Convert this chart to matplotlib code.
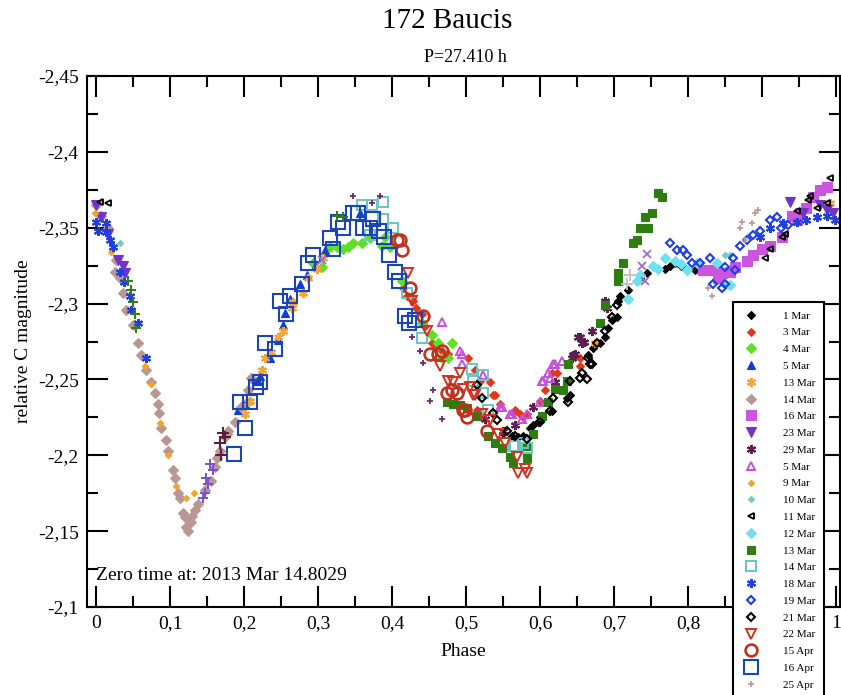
import matplotlib
matplotlib.use("Agg")
import matplotlib.pyplot as plt
from matplotlib.ticker import MultipleLocator, FuncFormatter

# (phase, relative C magnitude), one list per night
mar01 = [(0.550, -2.215), (0.562, -2.213), (0.570, -2.212), (0.577, -2.213), (0.586, -2.218),
         (0.590, -2.220), (0.597, -2.222), (0.600, -2.225), (0.616, -2.229), (0.636, -2.238),
         (0.641, -2.240), (0.665, -2.266), (0.672, -2.271), (0.681, -2.274), (0.688, -2.278),
         (0.692, -2.284), (0.697, -2.289), (0.704, -2.291), (0.705, -2.302), (0.708, -2.305),
         (0.719, -2.309), (0.735, -2.317), (0.745, -2.320), (0.769, -2.323), (0.775, -2.325),
         (0.782, -2.327), (0.790, -2.325), (0.809, -2.322), (0.815, -2.322), (0.830, -2.322),
         (0.843, -2.322)]
mar03 = [(0.415, -2.310), (0.420, -2.305), (0.429, -2.302), (0.433, -2.297), (0.441, -2.293),
         (0.445, -2.285), (0.454, -2.274), (0.460, -2.272), (0.468, -2.269), (0.476, -2.267),
         (0.503, -2.264), (0.512, -2.256), (0.519, -2.249), (0.532, -2.248), (0.536, -2.240),
         (0.539, -2.240), (0.546, -2.234), (0.515, -2.230), (0.564, -2.228), (0.566, -2.230),
         (0.573, -2.227), (0.577, -2.225), (0.582, -2.227), (0.600, -2.236), (0.607, -2.243),
         (0.616, -2.254), (0.623, -2.254), (0.654, -2.264), (0.645, -2.266), (0.654, -2.259)]
mar04 = [(0.293, -2.327), (0.305, -2.324), (0.316, -2.337), (0.325, -2.337), (0.334, -2.336),
         (0.341, -2.337), (0.347, -2.340), (0.359, -2.340), (0.370, -2.343), (0.386, -2.338),
         (0.390, -2.344), (0.397, -2.337), (0.413, -2.315), (0.440, -2.287), (0.454, -2.279),
         (0.462, -2.274), (0.468, -2.264), (0.481, -2.274), (0.475, -2.264)]
mar05 = [(0.192, -2.230), (0.201, -2.234), (0.216, -2.249), (0.219, -2.249), (0.222, -2.252),
         (0.235, -2.264), (0.246, -2.276), (0.253, -2.286), (0.255, -2.294), (0.262, -2.303),
         (0.276, -2.313), (0.285, -2.319), (0.296, -2.325), (0.310, -2.335), (0.357, -2.360)]
mar13 = [(0.201, -2.227), (0.205, -2.235), (0.208, -2.236), (0.224, -2.256), (0.228, -2.264),
         (0.236, -2.268), (0.246, -2.278), (0.253, -2.282), (0.265, -2.297), (0.266, -2.301),
         (0.280, -2.307), (0.287, -2.317), (0.298, -2.323), (0.307, -2.330), (0.674, -2.274),
         (0.992, -2.366)]
mar14 = [(0.000, -2.365), (0.007, -2.358), (0.016, -2.350), (0.027, -2.329), (0.026, -2.321),
         (0.032, -2.317), (0.036, -2.307), (0.041, -2.296), (0.050, -2.286), (0.057, -2.274),
         (0.061, -2.266), (0.068, -2.256), (0.074, -2.248), (0.080, -2.241), (0.084, -2.234),
         (0.085, -2.228), (0.088, -2.218), (0.095, -2.210), (0.097, -2.203), (0.104, -2.190),
         (0.107, -2.185), (0.111, -2.175), (0.113, -2.172), (0.118, -2.162), (0.120, -2.159),
         (0.122, -2.153), (0.124, -2.150), (0.128, -2.156), (0.130, -2.160), (0.134, -2.164),
         (0.138, -2.168), (0.147, -2.177), (0.155, -2.183), (0.161, -2.192), (0.163, -2.198),
         (0.168, -2.203), (0.174, -2.212), (0.177, -2.214), (0.178, -2.216), (0.188, -2.222),
         (0.196, -2.232), (0.205, -2.243), (0.209, -2.251)]
mar16 = [(0.820, -2.322), (0.834, -2.322), (0.840, -2.317), (0.846, -2.320), (0.857, -2.321),
         (0.864, -2.324), (0.880, -2.328), (0.888, -2.332), (0.900, -2.336), (0.911, -2.338),
         (0.927, -2.344), (0.940, -2.358), (0.947, -2.355), (0.951, -2.360), (0.960, -2.363),
         (0.969, -2.370), (0.978, -2.375), (0.988, -2.377)]
mar23 = [(0.000, -2.365), (0.007, -2.357), (0.016, -2.346), (0.030, -2.329), (0.036, -2.325),
         (0.039, -2.320), (0.938, -2.367), (0.955, -2.360), (0.978, -2.365), (0.988, -2.362),
         (0.996, -2.360)]
mar29 = [(0.526, -2.224), (0.550, -2.216), (0.566, -2.220), (0.591, -2.232), (0.620, -2.248),
         (0.643, -2.264), (0.645, -2.266), (0.647, -2.267), (0.652, -2.278), (0.654, -2.278),
         (0.657, -2.274), (0.660, -2.275), (0.670, -2.282), (0.688, -2.302), (0.690, -2.297)]
mar05b = [(0.468, -2.288), (0.492, -2.269), (0.495, -2.260), (0.495, -2.267), (0.523, -2.253),
          (0.546, -2.232), (0.549, -2.232), (0.559, -2.227), (0.562, -2.227), (0.575, -2.224),
          (0.582, -2.227), (0.600, -2.235), (0.603, -2.249), (0.604, -2.249), (0.611, -2.254),
          (0.614, -2.251), (0.618, -2.260), (0.620, -2.260), (0.630, -2.262)]
mar09 = [(-0.001, -2.360), (0.020, -2.334), (0.066, -2.259), (0.074, -2.247), (0.086, -2.221),
         (0.097, -2.200), (0.108, -2.180), (0.122, -2.172), (0.132, -2.175)]
mar10 = [(0.032, -2.340), (0.850, -2.332), (0.857, -2.332)]
mar11 = [(0.005, -2.367), (0.016, -2.366), (0.904, -2.330), (0.911, -2.336), (0.927, -2.344),
         (0.931, -2.346), (0.947, -2.361), (0.962, -2.368), (0.965, -2.371), (0.974, -2.363),
         (0.988, -2.366), (0.992, -2.383)]
mar12 = [(0.719, -2.303), (0.731, -2.315), (0.735, -2.319), (0.753, -2.325), (0.760, -2.323),
         (0.769, -2.330), (0.782, -2.328), (0.790, -2.326), (0.798, -2.322), (0.812, -2.327),
         (0.839, -2.327), (0.850, -2.313), (0.857, -2.312)]
mar13b = [(0.474, -2.235), (0.482, -2.234), (0.492, -2.233), (0.501, -2.231), (0.515, -2.226),
          (0.530, -2.213), (0.539, -2.208), (0.549, -2.205), (0.559, -2.199), (0.564, -2.195),
          (0.582, -2.206), (0.582, -2.198), (0.591, -2.214), (0.603, -2.226), (0.611, -2.235),
          (0.620, -2.244), (0.631, -2.243), (0.636, -2.249), (0.638, -2.260), (0.681, -2.287),
          (0.688, -2.299), (0.705, -2.315), (0.705, -2.320), (0.712, -2.327), (0.726, -2.340),
          (0.731, -2.342), (0.735, -2.350), (0.742, -2.357), (0.746, -2.350), (0.751, -2.360),
          (0.759, -2.373), (0.765, -2.370)]
mar14b = [(0.359, -2.365), (0.373, -2.365), (0.370, -2.345), (0.388, -2.356), (0.388, -2.367),
          (0.401, -2.350), (0.420, -2.307), (0.440, -2.277), (0.508, -2.257), (0.510, -2.249),
          (0.523, -2.253), (0.523, -2.241), (0.530, -2.230), (0.564, -2.206), (0.566, -2.206),
          (0.577, -2.208), (0.582, -2.205)]
mar18 = [(0.000, -2.354), (0.003, -2.348), (0.014, -2.353), (0.014, -2.347), (0.019, -2.342),
         (0.023, -2.337), (0.032, -2.321), (0.038, -2.314), (0.046, -2.305), (0.047, -2.296),
         (0.057, -2.287), (0.068, -2.264), (0.897, -2.344), (0.911, -2.350), (0.928, -2.353),
         (0.947, -2.354), (0.960, -2.355), (0.974, -2.357), (0.988, -2.358), (0.999, -2.355)]
mar19 = [(0.776, -2.340), (0.785, -2.335), (0.793, -2.335), (0.798, -2.332), (0.805, -2.327),
         (0.816, -2.327), (0.830, -2.330), (0.834, -2.313), (0.846, -2.310), (0.850, -2.313),
         (0.850, -2.324), (0.861, -2.330), (0.864, -2.322), (0.870, -2.338), (0.880, -2.342),
         (0.888, -2.345), (0.897, -2.348), (0.911, -2.355), (0.920, -2.357), (0.925, -2.350),
         (0.935, -2.352)]
mar21 = [(0.515, -2.246), (0.522, -2.238), (0.536, -2.228), (0.542, -2.223), (0.556, -2.216),
         (0.566, -2.213), (0.582, -2.211), (0.600, -2.222), (0.614, -2.229), (0.618, -2.238),
         (0.638, -2.235), (0.641, -2.249), (0.654, -2.251), (0.657, -2.254), (0.663, -2.250),
         (0.665, -2.264), (0.668, -2.260), (0.670, -2.260), (0.677, -2.274), (0.688, -2.282),
         (0.697, -2.291), (0.704, -2.299)]
mar22 = [(0.422, -2.320), (0.427, -2.302), (0.447, -2.282), (0.465, -2.259), (0.476, -2.249),
         (0.482, -2.248), (0.492, -2.254), (0.496, -2.244), (0.505, -2.245), (0.510, -2.240),
         (0.512, -2.240), (0.522, -2.227), (0.532, -2.223), (0.543, -2.214), (0.553, -2.208),
         (0.569, -2.199), (0.570, -2.188), (0.580, -2.191), (0.582, -2.188)]
apr15 = [(0.407, -2.342), (0.413, -2.335), (0.411, -2.342), (0.424, -2.310), (0.442, -2.292),
         (0.451, -2.267), (0.462, -2.267), (0.468, -2.269), (0.474, -2.241), (0.481, -2.243),
         (0.488, -2.241), (0.496, -2.230), (0.499, -2.230), (0.501, -2.225), (0.528, -2.216)]
apr16 = [(0.187, -2.201), (0.195, -2.235), (0.201, -2.218), (0.208, -2.235), (0.216, -2.245),
         (0.222, -2.248), (0.228, -2.274), (0.242, -2.270), (0.249, -2.302), (0.257, -2.293),
         (0.262, -2.305), (0.278, -2.313), (0.286, -2.327), (0.293, -2.332), (0.316, -2.343),
         (0.320, -2.336), (0.327, -2.354), (0.334, -2.350), (0.347, -2.360), (0.354, -2.360),
         (0.361, -2.350), (0.370, -2.350), (0.374, -2.356), (0.382, -2.348), (0.389, -2.344),
         (0.396, -2.332), (0.404, -2.321), (0.410, -2.315), (0.418, -2.292), (0.423, -2.287),
         (0.431, -2.289)]
apr25 = [(0.827, -2.310), (0.832, -2.305), (0.870, -2.350), (0.873, -2.354), (0.877, -2.342),
         (0.886, -2.353), (0.890, -2.360), (0.895, -2.362)]

# nights whose legend entries fall below the bottom of the picture
extra_green = [(0.043, -2.315), (0.047, -2.309), (0.050, -2.301), (0.053, -2.293), (0.054, -2.284),
               (0.325, -2.358), (0.334, -2.357)]
extra_purple = [(0.145, -2.172), (0.147, -2.175), (0.149, -2.185), (0.151, -2.181), (0.154, -2.194),
                (0.158, -2.190)]
extra_maroon = [(0.168, -2.208), (0.169, -2.200), (0.172, -2.215), (0.174, -2.212)]
extra_small = [(0.347, -2.371), (0.373, -2.366), (0.384, -2.371), (0.427, -2.278), (0.438, -2.269),
               (0.442, -2.261), (0.451, -2.236), (0.455, -2.243), (0.468, -2.224)]
extra_lavender = [(0.305, -2.329), (0.738, -2.325), (0.742, -2.315), (0.745, -2.333)]
extra_grey = [(0.717, -2.313), (0.722, -2.319)]

STAR = (6, 2, 0)

# label, data, marker, size, face, edge, edge width
series = [
    ("1 Mar", mar01, "D", 4, "black", "black", 0.8),
    ("3 Mar", mar03, "D", 4, "#e0381c", "#e0381c", 0.8),
    ("4 Mar", mar04, "D", 5.5, "#5ee02a", "#5ee02a", 0.8),
    ("5 Mar", mar05, "^", 5.5, "#0b3fd8", "#0b3fd8", 0.8),
    ("13 Mar", mar13, STAR, 6.5, "#f3a53a", "#f3a53a", 1.5),
    ("14 Mar", mar14, "D", 5, "#b99893", "#b99893", 0.8),
    ("16 Mar", mar16, "s", 6.5, "#cc55e0", "#cc55e0", 0.8),
    ("23 Mar", mar23, "v", 6.5, "#7433c8", "#7433c8", 0.8),
    ("29 Mar", mar29, STAR, 6.5, "#5a1f4e", "#5a1f4e", 1.5),
    ("5 Mar", mar05b, "^", 6, "none", "#c84ee0", 1.4),
    ("9 Mar", mar09, "D", 3.2, "#f3a426", "#f3a426", 0.8),
    ("10 Mar", mar10, "D", 3.2, "#6fcfc8", "#6fcfc8", 0.8),
    ("11 Mar", mar11, "<", 5, "none", "black", 1.3),
    ("12 Mar", mar12, "D", 5.5, "#6ee0ee", "#6ee0ee", 0.8),
    ("13 Mar", mar13b, "s", 5.5, "#2f7d12", "#2f7d12", 0.8),
    ("14 Mar", mar14b, "s", 6.5, "none", "#6ec3c3", 1.4),
    ("18 Mar", mar18, STAR, 6.5, "#1f3fe0", "#1f3fe0", 1.5),
    ("19 Mar", mar19, "D", 4, "none", "#1f3fe0", 1.5),
    ("21 Mar", mar21, "D", 4, "none", "black", 1.5),
    ("22 Mar", mar22, "v", 6.5, "none", "#d2321c", 1.4),
    ("15 Apr", apr15, "o", 8.5, "none", "#c0311e", 1.9),
    ("16 Apr", apr16, "s", 9.5, "none", "#1b45b5", 1.5),
    ("25 Apr", apr25, "+", 4.5, "#b99893", "#b99893", 1.2),
    ("_26", extra_green, "+", 7.5, "#2f7d12", "#2f7d12", 1.4),
    ("_27", extra_purple, "+", 7.5, "#7a52c8", "#7a52c8", 1.4),
    ("_28", extra_maroon, "+", 8.5, "#5a1f3a", "#5a1f3a", 1.5),
    ("_29", extra_small, "+", 4, "#6a2a6a", "#6a2a6a", 1.3),
    ("_30", extra_lavender, "x", 6, "#9a70d0", "#9a70d0", 1.3),
    ("_31", extra_grey, "+", 8, "#c0c0c0", "#c0c0c0", 1.3),
]


def comma(v, pos):
    return f"{v:g}".replace(".", ",")


def main():
    plt.rcParams["font.family"] = ["Liberation Serif", "DejaVu Serif"]
    fig = plt.figure(figsize=(8.41, 6.95), dpi=100)
    ax = fig.add_axes([87 / 841, 1 - 607 / 695, (840 - 87) / 841, (607 - 76) / 695])

    for label, pts, marker, size, face, edge, mew in series:
        xs = [p[0] for p in pts]
        ys = [p[1] for p in pts]
        ax.plot(xs, ys, linestyle="none", marker=marker, markersize=size,
                markerfacecolor=face, markeredgecolor=edge, markeredgewidth=mew,
                label=label)

    ax.set_xlim(-0.0122, 1.0054)
    ax.set_ylim(-2.1, -2.45)
    ax.xaxis.set_major_locator(MultipleLocator(0.1))
    ax.xaxis.set_minor_locator(MultipleLocator(0.05))
    ax.yaxis.set_major_locator(MultipleLocator(0.05))
    ax.yaxis.set_minor_locator(MultipleLocator(0.025))
    ax.xaxis.set_major_formatter(FuncFormatter(comma))
    ax.yaxis.set_major_formatter(FuncFormatter(comma))
    ax.tick_params(which="both", direction="in", top=True, right=True, width=1.5,
                   labelsize=14)
    ax.tick_params(which="major", length=15, pad=6)
    ax.tick_params(which="minor", length=8)
    for sp in ax.spines.values():
        sp.set_linewidth(1.5)

    ax.set_xlabel("Phase", fontsize=14, labelpad=8)
    ax.set_ylabel("relative C magnitude", fontsize=14, labelpad=4)
    ax.text(0.0, -2.121, "Zero time at: 2013 Mar 14.8029", fontsize=14, va="center", ha="left")

    fig.text(447 / 841, 1 - 21 / 695, "172 Baucis", fontsize=21, ha="center", va="center")
    fig.text(465 / 841, 1 - 58 / 695, "P=27.410 h", fontsize=13, ha="center", va="center")

    leg = fig.legend(loc="upper left", bbox_to_anchor=(733 / 841, 1 - 302 / 695),
                     borderaxespad=0, fontsize=8, frameon=True, fancybox=False,
                     framealpha=1, edgecolor="black", borderpad=0.8, handlelength=1.6,
                     handletextpad=2.1, labelspacing=0.63, numpoints=1)
    leg.get_frame().set_linewidth(1.5)

    fig.savefig("out.png", dpi=100)


if __name__ == "__main__":
    main()
